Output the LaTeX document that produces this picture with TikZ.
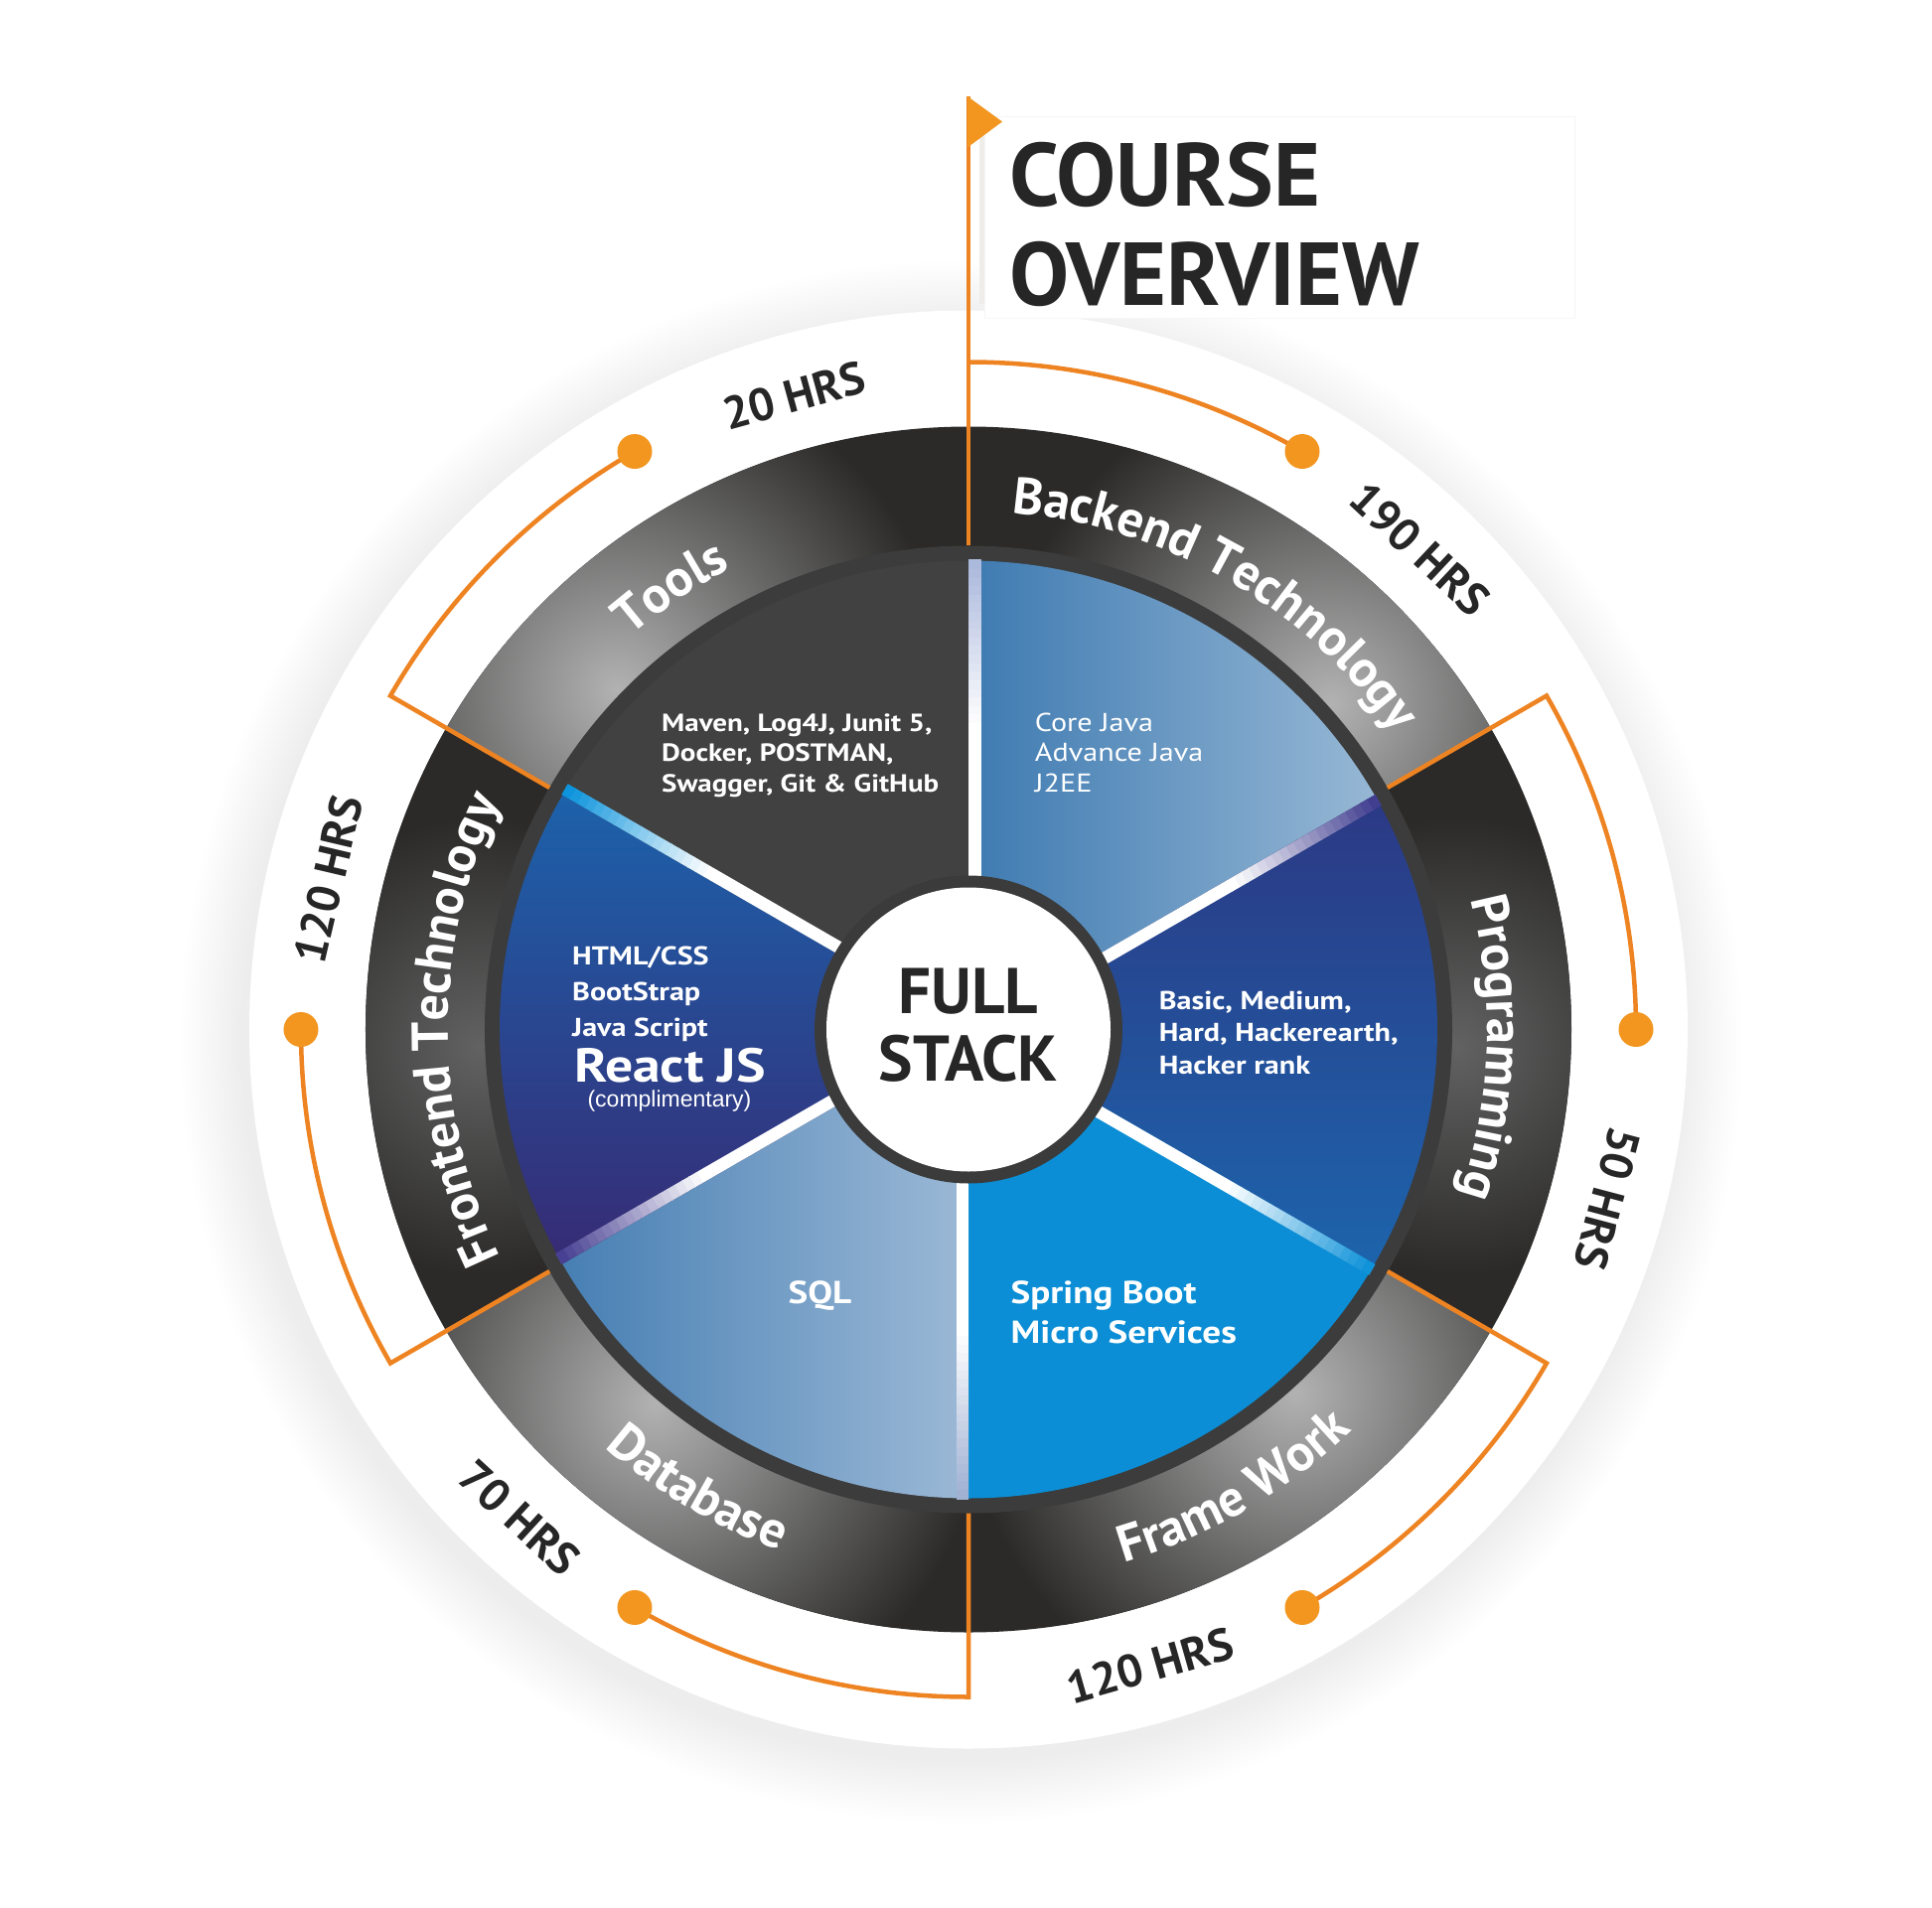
\documentclass[tikz,border=0pt]{standalone}
\usepackage{fontspec}
\setmainfont{PT Sans}
\newfontfamily\piefont{PT Sans}[FakeStretch=1.16]
\newfontfamily\arialf{Liberation Sans}
\usetikzlibrary{decorations.text}

\definecolor{ringc}{HTML}{2B2A29}
\definecolor{glowc}{HTML}{B2B2B2}
\definecolor{glowd}{HTML}{626262}
\definecolor{pieborder}{HTML}{3C3C3C}
\definecolor{toolsc}{HTML}{414141}
\definecolor{bkA}{HTML}{3E7AB1}
\definecolor{bkB}{HTML}{A4C1DA}
\definecolor{dbA}{HTML}{3A76AE}
\definecolor{dbB}{HTML}{9CB9D6}
\definecolor{prA}{HTML}{2C3884}
\definecolor{prB}{HTML}{1D64AC}
\definecolor{feA}{HTML}{1C62AB}
\definecolor{feB}{HTML}{372A74}
\definecolor{fwc}{HTML}{0B8ED5}
\definecolor{sepA}{HTML}{AAB8DC}
\definecolor{sepB}{HTML}{0B93DC}
\definecolor{sepC}{HTML}{463F92}
\definecolor{sepD}{HTML}{9FB0D2}
\definecolor{sepE}{HTML}{0F92D9}
\definecolor{sepF}{HTML}{3F3C8F}
\definecolor{orangeL}{HTML}{EE8322}
\definecolor{orangeD}{HTML}{F29620}
\definecolor{darktxt}{HTML}{262626}
\definecolor{haloc}{HTML}{EDEDED}
\definecolor{boxedge}{HTML}{F6F6F6}
\definecolor{boxsh}{HTML}{EFEDEA}
\definecolor{centerb}{HTML}{3B3B3B}

\pgfdeclareradialshading{halo}{\pgfpointorigin}{color(0bp)=(haloc); color(22.6bp)=(haloc); color(24.6bp)=(white); color(50bp)=(white)}

\newcommand\ringfnt{\fontsize{52}{60}\selectfont\bfseries}

\tikzset{
  oline/.style={draw=orangeL, line width=4.5pt, line join=miter},
  odot/.style={circle, fill=orangeD, inner sep=0pt, minimum size=35pt},
  pietxt/.style={text=white, anchor=base west, inner sep=0pt, font=\piefont\fontsize{25}{30}\selectfont\bfseries},
  pietxtr/.style={text=white, anchor=base west, inner sep=0pt, font=\piefont\fontsize{26}{30}\selectfont},
  pietxtm/.style={text=white, anchor=base west, inner sep=0pt, font=\piefont\fontsize{26}{30}\selectfont\bfseries},
  pietxtl/.style={text=white, anchor=base west, inner sep=0pt, font=\piefont\fontsize{32}{40}\selectfont\bfseries},
  hrs/.style={text=darktxt, inner sep=0pt, font=\fontsize{46}{50}\selectfont\bfseries},
  ringtxt/.style={decorate, decoration={text along path, text align=center, text color=white, text={|\ringfnt|#1}}},
  bigtxt/.style={text=darktxt, inner sep=0pt, font=\fontsize{90}{100}\selectfont\bfseries, anchor=base west},
  ctrtxt/.style={text=darktxt, inner sep=0pt, font=\fontsize{65}{70}\selectfont\bfseries, anchor=base}
}

\begin{document}
\begin{tikzpicture}[x=1pt,y=1pt]
\useasboundingbox (-975,-883.5) rectangle (970,1036.5);
\fill[white] (-975,-883.5) rectangle (970,1036.5);

% halo and white disk
\shade[shading=halo] (-8,-12) circle (800);
\fill[white] (0,0) circle (724);

% header box
\fill[boxsh] (11,730) rectangle (17,905);
\filldraw[fill=white, draw=boxedge, line width=1pt] (16,715.5) rectangle (610,918.5);

% ring
\fill[ringc] (0,0) circle (607);
\foreach \a/\b/\g/\gc/\gr in {90/150/136/glowc/330, 30/90/42/glowc/330, -90/-30/-48/glowc/330, -150/-90/-130/glowc/330, 150/210/182/glowd/230, -30/30/-2/glowd/230}{
  \begin{scope}
    \clip (0,0) -- (\a:607) arc (\a:\b:607) -- cycle;
    \shade[inner color=\gc, outer color=ringc] (\g:492) circle (\gr);
  \end{scope}
}

% pie
\fill[pieborder] (0,0) circle (487);
\begin{scope}
  \clip (0,0) -- (90:472) arc (90:150:472) -- cycle;
  \fill[toolsc] (-480,0) rectangle (0,480);
\end{scope}
\begin{scope}
  \clip (0,0) -- (30:472) arc (30:90:472) -- cycle;
  \shade[left color=bkA, right color=bkB] (0,0) rectangle (472,472);
\end{scope}
\begin{scope}
  \clip (0,0) -- (-30:472) arc (-30:30:472) -- cycle;
  \shade[top color=prA, bottom color=prB] (0,-240) rectangle (472,240);
\end{scope}
\begin{scope}
  \clip (0,0) -- (-90:472) arc (-90:-30:472) -- cycle;
  \fill[fwc] (0,-480) rectangle (480,0);
\end{scope}
\begin{scope}
  \clip (0,0) -- (-150:472) arc (-150:-90:472) -- cycle;
  \shade[left color=dbA, right color=dbB] (-472,-472) rectangle (0,0);
\end{scope}
\begin{scope}
  \clip (0,0) -- (150:472) arc (150:210:472) -- cycle;
  \shade[top color=feA, bottom color=feB] (-472,-240) rectangle (0,240);
\end{scope}

% separators
\foreach \ang/\sc in {90/sepA, 150/sepB, 210/sepC, 270/sepD, 330/sepE, 30/sepF}{
  \begin{scope}[rotate=\ang]
    \fill[white] (140,-12.5) rectangle (301,0);
    \foreach \i in {0,...,19}{
      \pgfmathsetmacro\ra{300+\i*8.6}
      \pgfmathsetmacro\rb{\ra+9.6}
      \pgfmathtruncatemacro\pc{\i*5.263}
      \fill[\sc!\pc!white] (\ra,-12.5) rectangle (\rb,0);
    }
  \end{scope}
}

% center circle
\fill[centerb] (0,0) circle (155);
\fill[white] (0,0) circle (143);
\node[ctrtxt] (full) at (0,16.5) {FULL};
\node[ctrtxt] (stack) at (0,-51.8) {STACK};

% pie texts
\node[pietxt] (t1) at (-309,300.5) {Maven, Log4J, Junit 5,};
\node[pietxt] (t2) at (-309,269.9) {Docker, POSTMAN,};
\node[pietxt] (t3) at (-309,239.1) {Swagger, Git \& GitHub};
\node[pietxtr] (b1) at (66.7,300.5) {Core Java};
\node[pietxtr] (b2) at (66.7,269.9) {Advance Java};
\node[pietxtr] (b3) at (66.7,239.1) {J2EE};
\node[pietxtm] (p1) at (191.6,20.5) {Basic, Medium,};
\node[pietxtm] (p2) at (191.6,-11.5) {Hard, Hackerearth,};
\node[pietxtm] (p3) at (191.6,-44.5) {Hacker rank};
\node[pietxtm] (f1) at (-399,65.5) {HTML/CSS};
\node[pietxtm] (f2) at (-399,28.8) {BootStrap};
\node[pietxtm] (f3) at (-399,-6.5) {Java Script};
\node[text=white, anchor=base west, inner sep=0pt, font=\piefont\fontsize{48}{52}\selectfont\bfseries] (f4) at (-397,-52.9) {React JS};
\node[text=white, anchor=base, inner sep=0pt, font=\arialf\fontsize{23}{26}\selectfont] (f5) at (-301,-78) {(complimentary)};
\node[pietxtl, anchor=base] (sql) at (-149.5,-275.5) {SQL};
\node[pietxtl] (s1) at (42.4,-275.5) {Spring Boot};
\node[pietxtl] (s2) at (42.4,-316) {Micro Services};

% orange brackets
\draw[oline] (0,487) -- (0,939.5);
\draw[oline] (90:672) arc (90:60:672);
\draw[oline] (30:487) -- (30:672) arc (30:0:672);
\draw[oline] (-30:487) -- (-30:672) arc (-30:-60:672);
\draw[oline] (-90:487) -- (-90:672) arc (-90:-120:672);
\draw[oline] (210:487) -- (210:672) arc (210:180:672);
\draw[oline] (150:487) -- (150:672) arc (150:120:672);
\node[odot] (d60) at (60:672) {};
\node[odot] (d0) at (0:672) {};
\node[odot] (dm60) at (-60:672) {};
\node[odot] (dm120) at (-120:672) {};
\node[odot] (d180) at (180:672) {};
\node[odot] (d120) at (120:672) {};
\fill[orangeD] (-1,939.5) -- (34,914) -- (-1,888) -- cycle;

% ring labels
\path[ringtxt={Backend Technology}] (100:522) arc (100:20:522);
\path[ringtxt={Tools}] (164:522) arc (164:84:522);
\path[ringtxt={Frontend Technology}] (222:524) arc (222:138:524);
\path[ringtxt={Programming}] (38:522) arc (38:-42:522);
\path[ringtxt={Frame Work}] (-100:559) arc (-100:-20:559);
\path[ringtxt={Database}] (-160.5:558) arc (-160.5:-80.5:558);

% hours
\node[hrs, rotate=15.4] (h20) at (105.4:662) {20 HRS};
\node[hrs, rotate=-43.2] (h190) at (46.8:664) {190 HRS};
\node[hrs, rotate=-104.8] (h50) at (-14.8:666) {50 HRS};
\node[hrs, rotate=15.9] (h120b) at (-74.1:666) {120 HRS};
\node[hrs, rotate=-42.6] (h70) at (-132.6:668) {70 HRS};
\node[hrs, rotate=76.8] (h120l) at (166.8:662) {120 HRS};

% header
\node[bigtxt] (course) at (41,829.2) {COURSE};
\node[bigtxt] (overview) at (41,728.7) {OVERVIEW};
\end{tikzpicture}
\end{document}
